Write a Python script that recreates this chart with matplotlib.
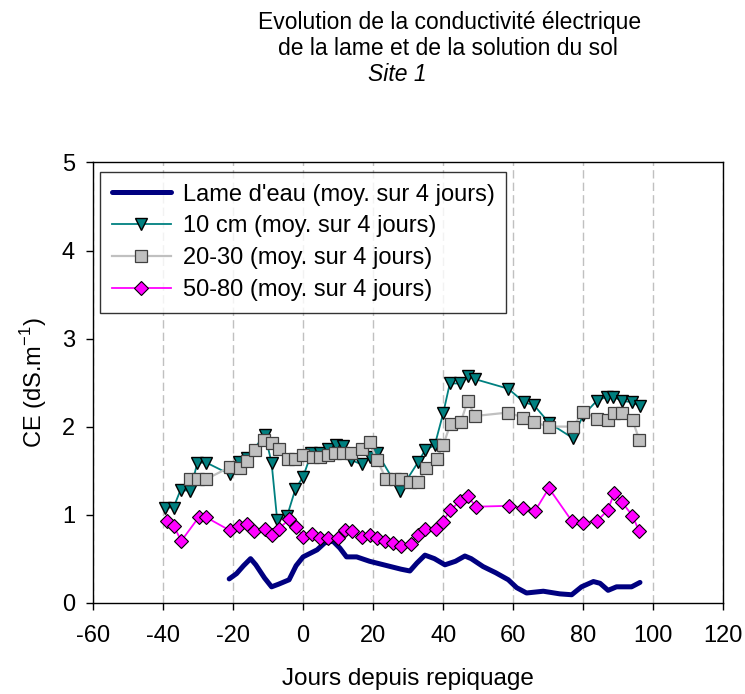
import matplotlib
matplotlib.use('Agg')
import matplotlib.pyplot as plt

plt.rcParams['font.family'] = ['Liberation Sans', 'DejaVu Sans']
plt.rcParams['axes.unicode_minus'] = False

# Lame d'eau (moy. sur 4 jours)
lame_x = [-21.1, -19, -17, -15, -13.5, -11, -9, -7, -4, -2, 0, 2, 4, 6.2, 8.5,
          10.5, 12.4, 15.3, 19, 23, 26, 28, 30.5, 32.5, 34.8, 37.5, 40.5, 43.5,
          46.2, 48, 51.4, 55, 58.6, 61, 63.8, 68.6, 73.3, 76.7, 79.5, 82.9, 84.8,
          87.1, 89.5, 93.8, 96.2]
lame_y = [0.27, 0.33, 0.42, 0.50, 0.43, 0.28, 0.18, 0.21, 0.26, 0.42, 0.52, 0.56,
          0.60, 0.68, 0.70, 0.62, 0.52, 0.52, 0.47, 0.43, 0.40, 0.38, 0.36, 0.45,
          0.54, 0.50, 0.43, 0.47, 0.53, 0.50, 0.41, 0.34, 0.26, 0.17, 0.11, 0.13,
          0.10, 0.09, 0.18, 0.24, 0.22, 0.14, 0.18, 0.18, 0.23]

# 10 cm
cm10_x = [-39.5, -37, -35, -32.2, -30.2, -27.6, -21, -18.2, -16, -10.9, -9, -7.4,
          -4.6, -2.2, 0, 2.4, 4.8, 7, 9.5, 11.5, 13.8, 16.7, 19, 21.2, 27.6, 32.9,
          34.8, 37.6, 40, 41.9, 44.8, 47.1, 49, 58.6, 63, 66, 70.3, 77, 80, 83.8,
          86.7, 88.6, 91, 93.8, 96.2]
cm10_y = [1.08, 1.08, 1.28, 1.27, 1.59, 1.59, 1.46, 1.60, 1.64, 1.91, 1.59, 0.94,
          0.98, 1.29, 1.43, 1.70, 1.70, 1.75, 1.79, 1.78, 1.62, 1.57, 1.66, 1.70,
          1.27, 1.60, 1.73, 1.79, 2.15, 2.49, 2.49, 2.58, 2.54, 2.43, 2.28, 2.24,
          2.04, 1.87, 2.13, 2.29, 2.34, 2.34, 2.29, 2.28, 2.23]

# 20-30
cm2030_x = [-32.4, -30, -27.8, -20.9, -18.1, -16, -13.8, -11.1, -8.9, -6.9, -4.2,
            -2.2, 0, 2.9, 4.8, 7, 9, 11.4, 13.8, 16.7, 19, 21.1, 23.8, 26.2, 28.1,
            30.5, 32.9, 35.1, 38.1, 40, 42.1, 45, 47, 49.1, 58.6, 62.9, 66, 70.1,
            77.1, 80, 84, 87.1, 88.9, 91, 94.1, 96]
cm2030_y = [1.40, 1.40, 1.40, 1.54, 1.53, 1.61, 1.73, 1.85, 1.81, 1.75, 1.63,
            1.63, 1.68, 1.66, 1.66, 1.68, 1.70, 1.70, 1.70, 1.75, 1.82, 1.62, 1.40,
            1.40, 1.40, 1.37, 1.37, 1.53, 1.63, 1.79, 2.03, 2.05, 2.29, 2.12, 2.16,
            2.10, 2.05, 2.00, 2.00, 2.17, 2.09, 2.07, 2.15, 2.15, 2.07, 1.85]

# 50-80
cm5080_x = [-39, -36.9, -34.8, -29.8, -27.7, -20.9, -18.2, -16, -14, -10.9, -9,
            -6.9, -3.9, -1.9, 0, 2.5, 4.8, 7, 10, 11.9, 14, 16.7, 19, 21.1, 23.5,
            25.8, 28.1, 30.7, 32.9, 34.8, 37.9, 40, 41.9, 44.8, 47.1, 49.3, 58.8,
            62.9, 66.2, 70.2, 76.7, 80, 84, 87, 88.9, 91.1, 94, 96]
cm5080_y = [0.93, 0.87, 0.70, 0.97, 0.97, 0.82, 0.87, 0.89, 0.81, 0.84, 0.77,
            0.84, 0.95, 0.86, 0.75, 0.78, 0.74, 0.73, 0.74, 0.83, 0.81, 0.75, 0.77,
            0.73, 0.70, 0.68, 0.64, 0.67, 0.77, 0.84, 0.84, 0.92, 1.05, 1.15, 1.21,
            1.09, 1.10, 1.08, 1.04, 1.30, 0.93, 0.91, 0.93, 1.05, 1.25, 1.14, 0.99,
            0.81]

fig = plt.figure(figsize=(7.45, 6.94), dpi=100)
ax = fig.add_axes([0.1248, 0.1316, 0.8461, 0.6343])

ax.plot(lame_x, lame_y, color='#000080', lw=3.6, solid_capstyle='round',
        label="Lame d'eau (moy. sur 4 jours)", zorder=3)
ax.plot(cm10_x, cm10_y, color='#008080', lw=1.3, marker='v', ms=9,
        mfc='#008080', mec='black', mew=1.0,
        label='10 cm (moy. sur 4 jours)', zorder=4)
ax.plot(cm2030_x, cm2030_y, color='#C0C0C0', lw=1.6, marker='s', ms=8,
        mfc='#C0C0C0', mec='#404040', mew=0.9,
        label='20-30 (moy. sur 4 jours)', zorder=5)
ax.plot(cm5080_x, cm5080_y, color='#FF00FF', lw=1.3, marker='D', ms=7.5,
        mfc='#FF00FF', mec='black', mew=0.8,
        label='50-80 (moy. sur 4 jours)', zorder=6)

ax.set_xlim(-60, 120)
ax.set_ylim(0, 5)
ax.set_xticks(range(-60, 121, 20))
ax.set_yticks(range(0, 6))
ax.xaxis.grid(True, color='#C0C0C0', ls=(0, (6, 3)), lw=1.0)
ax.set_axisbelow(True)
ax.tick_params(labelsize=17, direction='out', length=5, width=1)
ax.tick_params(axis='x', pad=11)
ax.tick_params(axis='y', pad=8)
for s in ax.spines.values():
    s.set_linewidth(1.0)

ax.set_xlabel('Jours depuis repiquage', fontsize=17.5, labelpad=15)
ax.set_ylabel('CE (dS.m$^{\\mathregular{-1}}$)', fontsize=17, labelpad=9)

leg = ax.legend(loc='upper left', bbox_to_anchor=(0.011, 0.979), fontsize=17,
                frameon=True, fancybox=False, edgecolor='black',
                handlelength=2.5, borderpad=0.5, labelspacing=0.42,
                handletextpad=0.5, borderaxespad=0)
leg.get_frame().set_linewidth(1.0)

fig.text(0.603, 0.968, "Evolution de la conductivité électrique", ha='center',
         va='center', fontsize=16.5)
fig.text(0.601, 0.930, "de la lame et de la solution du sol", ha='center',
         va='center', fontsize=16.5)
fig.text(0.533, 0.893, 'Site 1', ha='center', va='center', fontsize=16.5,
         style='italic')

plt.savefig('out.png', dpi=100)
plt.close()
